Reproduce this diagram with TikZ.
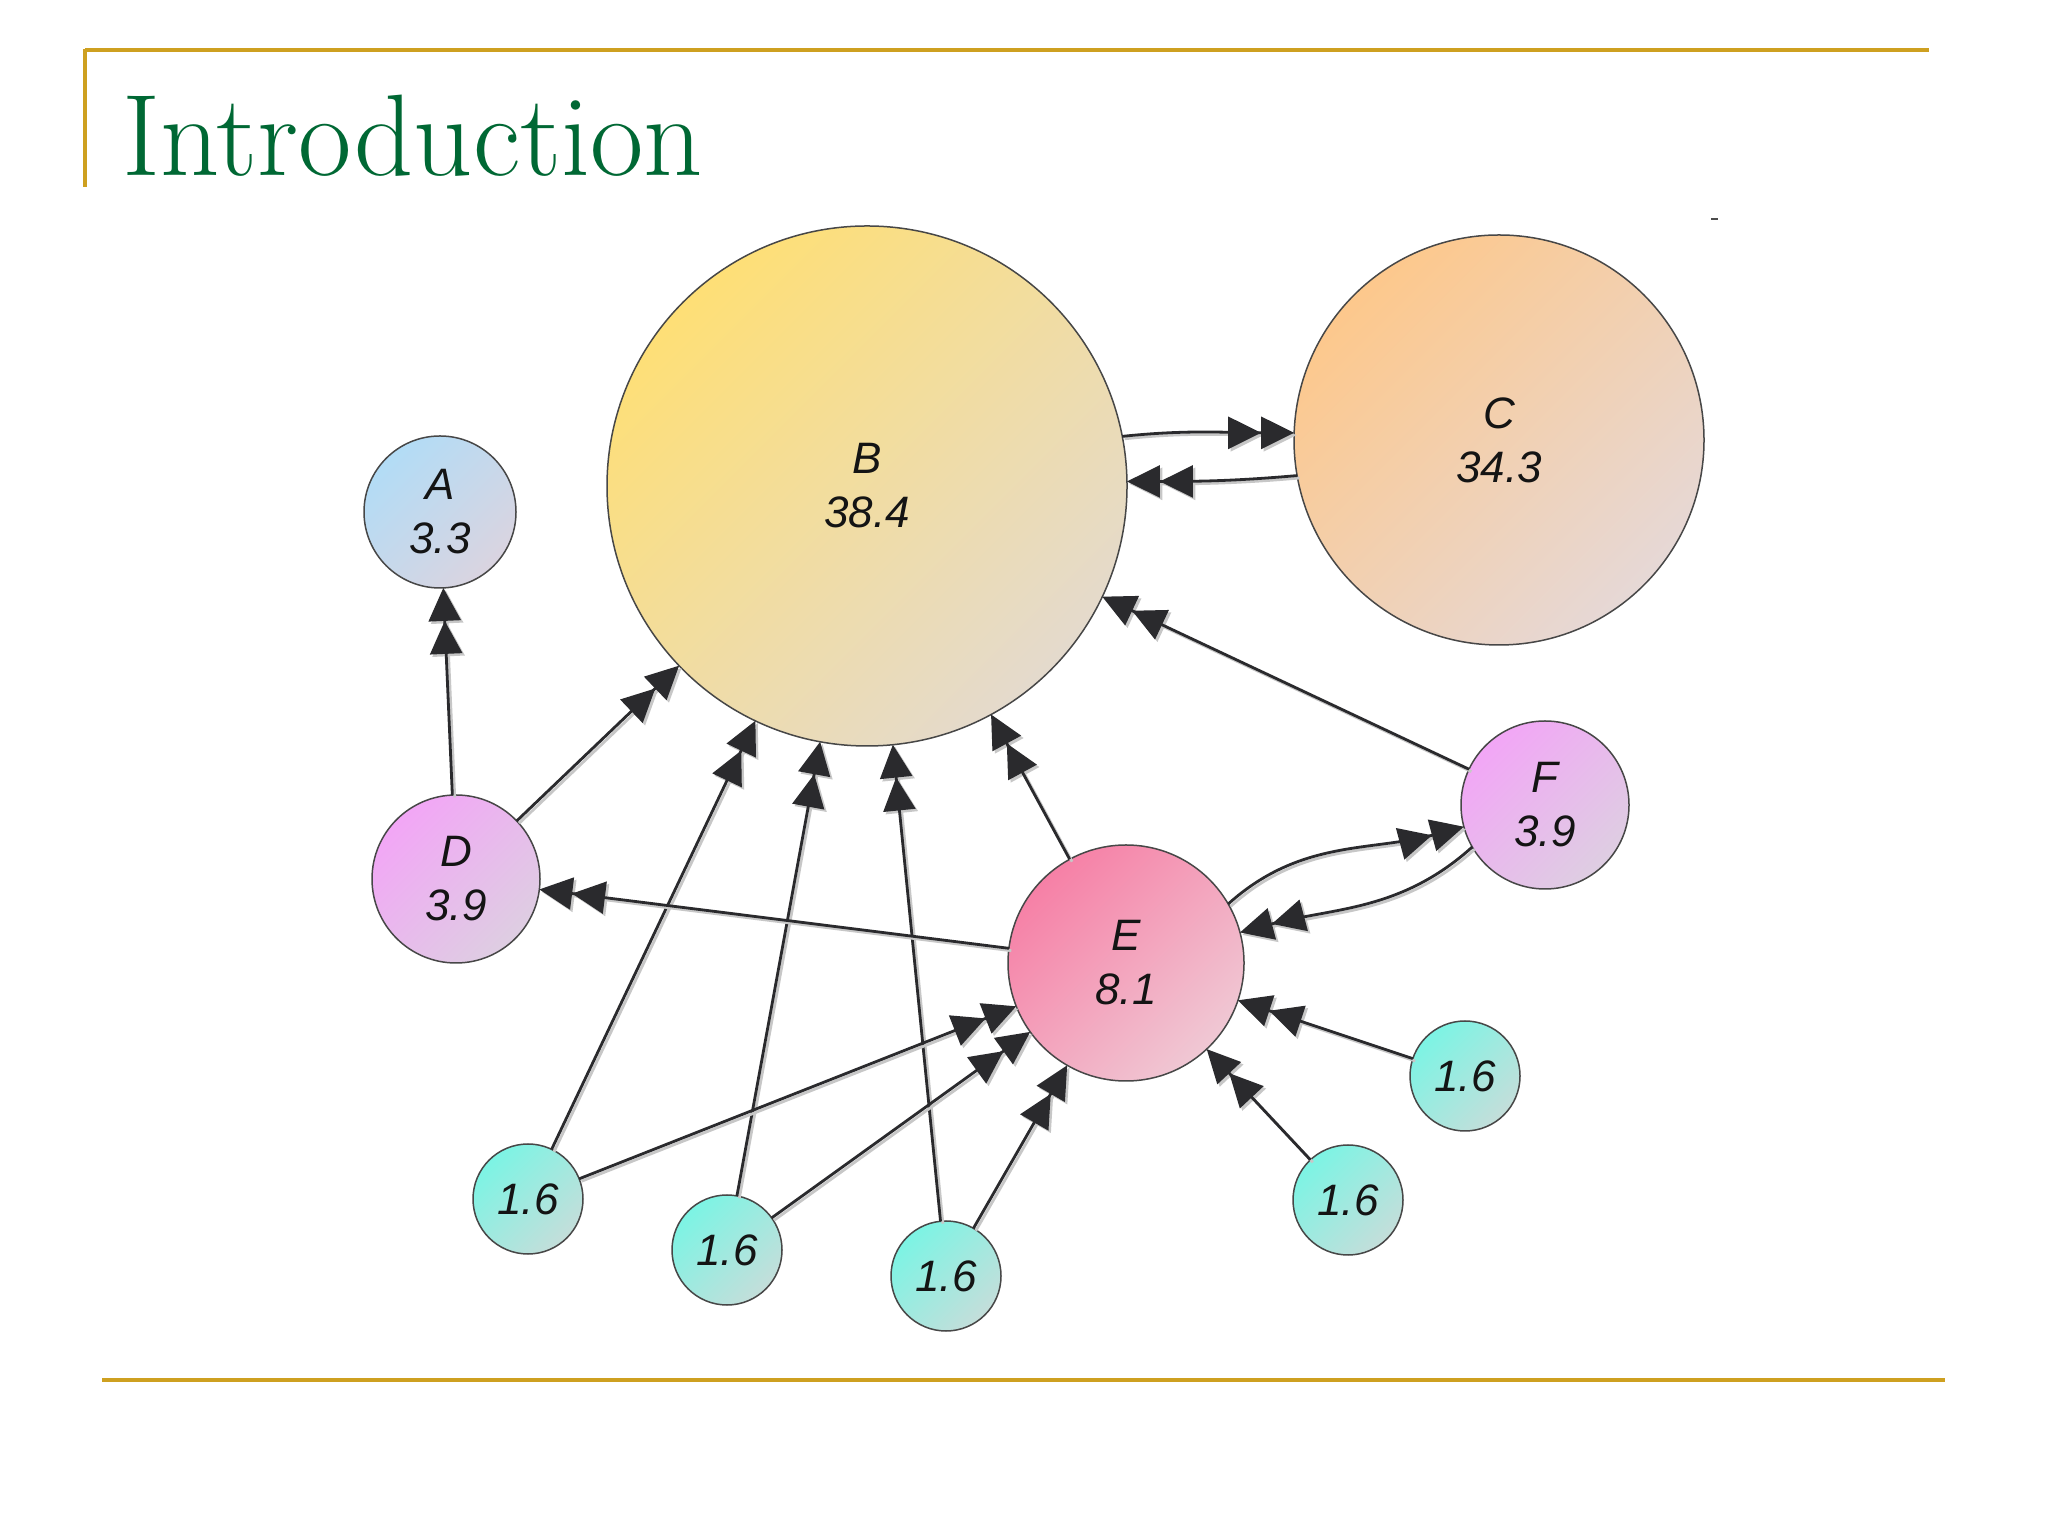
\documentclass[tikz,border=0pt]{standalone}
\usepackage{fontspec}
\newfontfamily\lab{Liberation Sans}
\usetikzlibrary{arrows.meta,shapes.geometric}
\definecolor{gold}{RGB}{206,160,32}
\definecolor{titlegreen}{RGB}{0,104,52}
\definecolor{edgecol}{RGB}{42,42,45}
\definecolor{Bt}{RGB}{254,223,118}\definecolor{Bb}{RGB}{228,218,205}
\definecolor{Ct}{RGB}{253,200,140}\definecolor{Cb}{RGB}{230,216,214}
\definecolor{At}{RGB}{178,220,246}\definecolor{Ab}{RGB}{218,212,224}
\definecolor{Dt}{RGB}{242,166,246}\definecolor{Db}{RGB}{222,206,226}
\definecolor{Et}{RGB}{246,128,166}\definecolor{Eb}{RGB}{240,200,212}
\definecolor{St}{RGB}{124,244,228}\definecolor{Sb}{RGB}{196,222,218}
\begin{document}
\begin{tikzpicture}[x=0.5pt,y=0.5pt,
  every node/.style={inner sep=0pt, outer sep=0pt},
  gnode/.style={circle, draw=black!72, line width=0.75pt, minimum size=#1, align=center,
    font=\lab\itshape\fontsize{22}{27}\selectfont, text=black!92},
  grad/.style 2 args={top color=#1, bottom color=#2, shading angle=45},
  edge/.style={draw=edgecol, line width=1.4pt,
    -{Triangle[length=16.5pt,width=16pt,sep=0pt]Triangle[length=16.5pt,width=16pt,sep=0pt]},
    preaction={draw=black!22, line width=1.4pt, transform canvas={xshift=1.2pt,yshift=-1.2pt}}},
]
\useasboundingbox (0,0) rectangle (2048,1536);
\fill[white] (0,0) rectangle (2048,1536);

% frame
\draw[gold, line width=2pt] (85,1486) -- (1929,1486);
\draw[gold, line width=2pt] (85,1487) -- (85,1349);
\draw[gold, line width=2pt] (102,156) -- (1945,156);
\node[anchor=base west, text=titlegreen, font=\fontsize{58}{64}\selectfont] (title) at (122,1360) {Introduction};
\draw[black!70, line width=0.8pt] (1711,1317) -- (1718,1317);

% nodes
\node[gnode=260pt, grad={Bt}{Bb}] (B) at (867,1050) {B\\38.4};
\node[gnode=205pt, grad={Ct}{Cb}] (C) at (1499,1096) {C\\34.3};
\node[gnode=76pt, grad={At}{Ab}] (A) at (440,1024) {A\\3.3};
\node[gnode=84pt, grad={Dt}{Db}] (D) at (456,657) {D\\3.9};
\node[gnode=84pt, grad={Dt}{Db}] (F) at (1545,731) {F\\3.9};
\node[gnode=118pt, grad={Et}{Eb}] (E) at (1126,573) {E\\8.1};
\node[gnode=55pt, grad={St}{Sb}] (s1) at (528,337) {1.6};
\node[gnode=55pt, grad={St}{Sb}] (s2) at (727,286) {1.6};
\node[gnode=55pt, grad={St}{Sb}] (s3) at (946,260) {1.6};
\node[gnode=55pt, grad={St}{Sb}] (s4) at (1348,336) {1.6};
\node[gnode=55pt, grad={St}{Sb}] (s5) at (1465,460) {1.6};

% edges
\draw[edge] (D) -- (A);
\draw[edge] (D) -- (B);
\draw[edge] (s1) -- (B);
\draw[edge] (s2) -- (B);
\draw[edge] (s3) -- (B);
\draw[edge] (E) -- (B);
\draw[edge] (F) -- (B);
\draw[edge] (E) -- (D);
\draw[edge] (B.11) to[out=6,in=180] (C.178);
\draw[edge] (C.190) to[out=185,in=0] (B.1);
\draw[edge] (E.30) to[out=42,in=195] (F.195);
\draw[edge] (F.210) to[out=222,in=15] (E.15);
\draw[edge] (s1) -- (E);
\draw[edge] (s2) -- (E);
\draw[edge] (s3) -- (E);
\draw[edge] (s4) -- (E);
\draw[edge] (s5) -- (E);
\end{tikzpicture}
\end{document}
